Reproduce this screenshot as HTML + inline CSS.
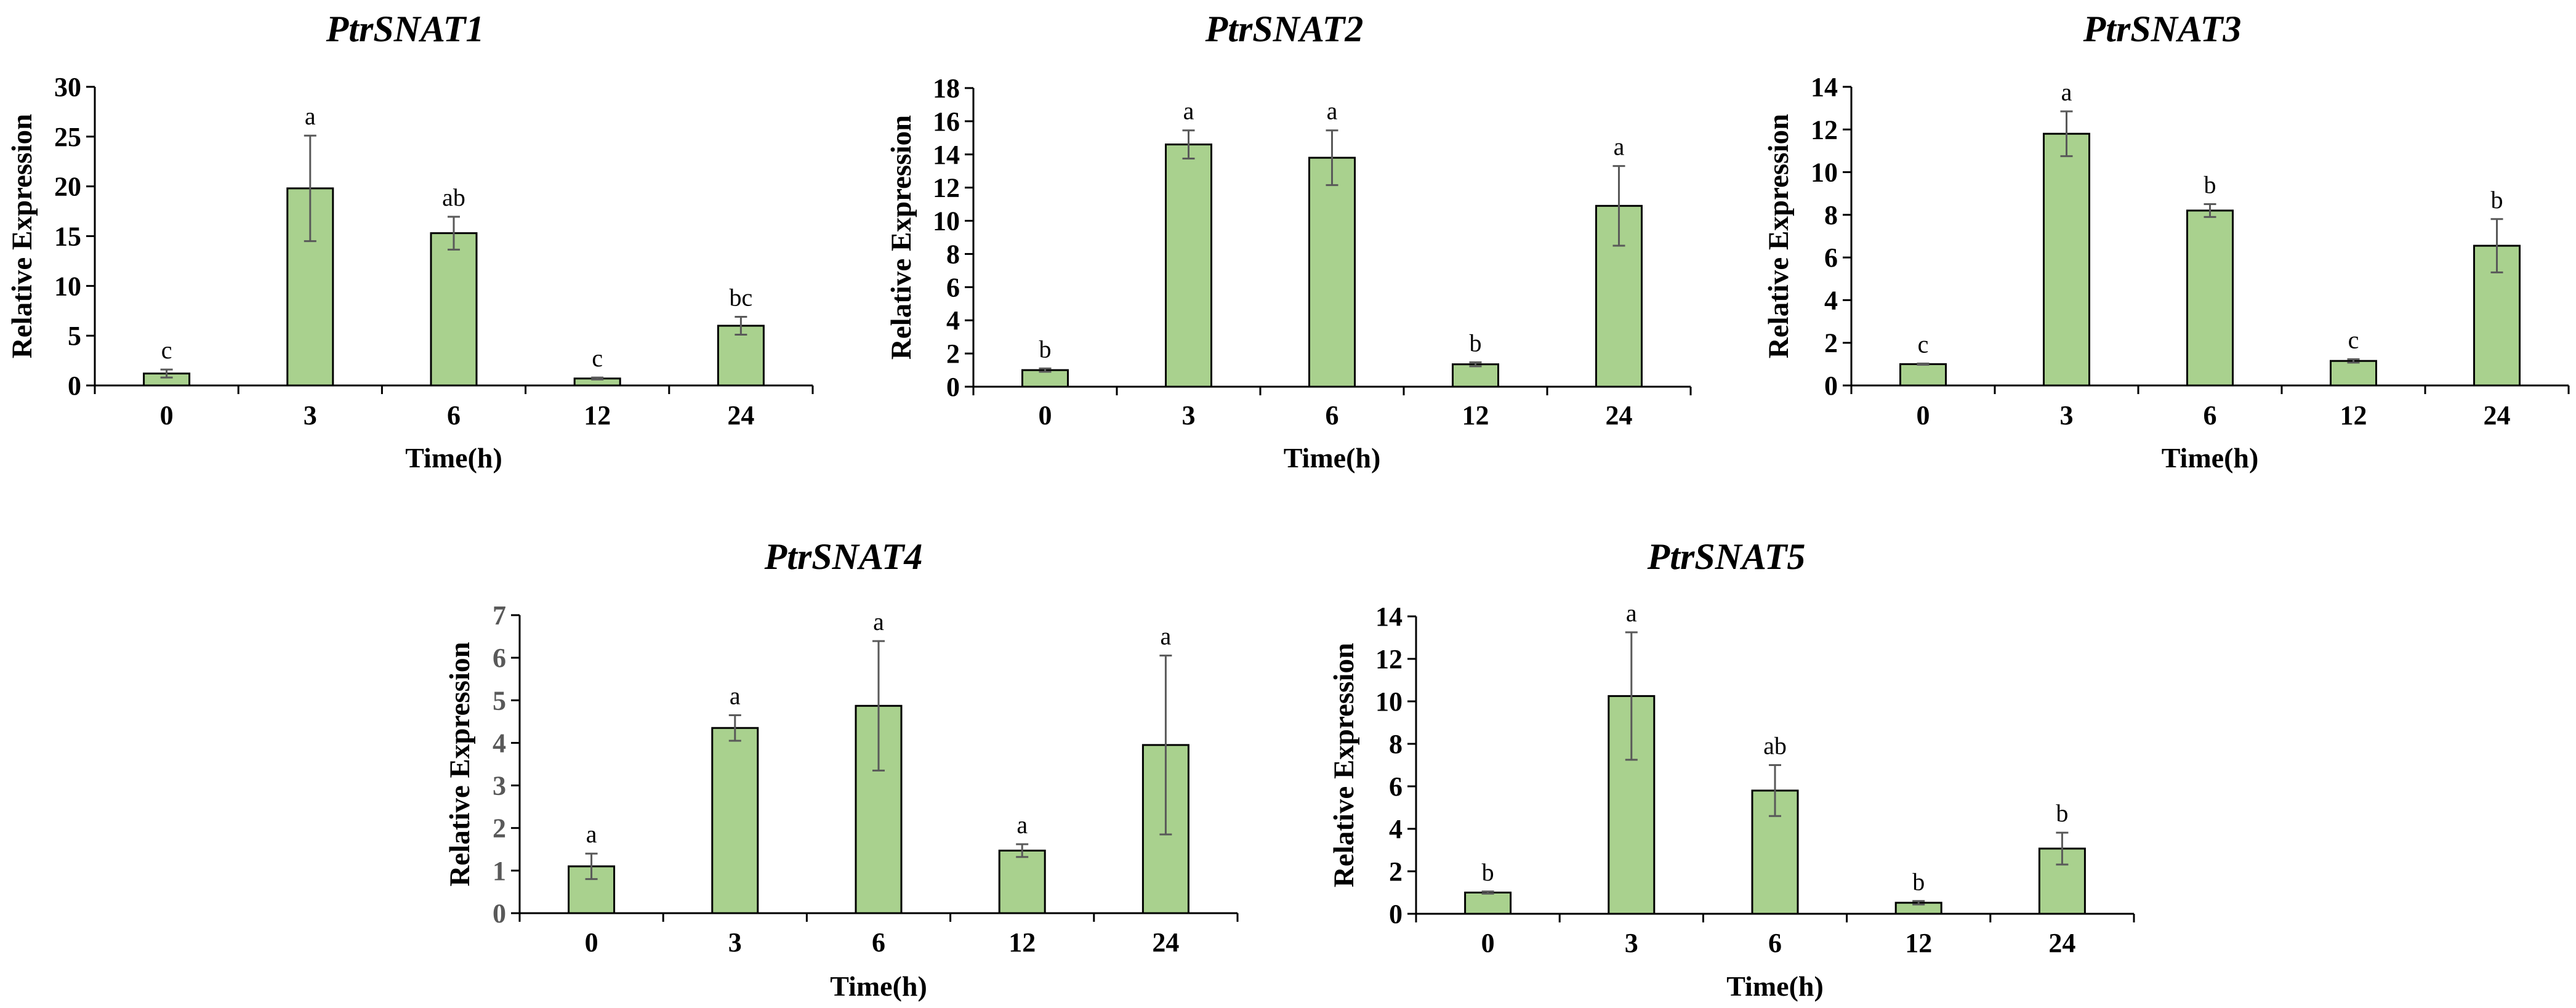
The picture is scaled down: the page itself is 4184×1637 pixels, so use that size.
<!DOCTYPE html>
<html><head><meta charset="utf-8">
<style>
html,body{margin:0;padding:0;background:#fff;}
svg{display:block;}
text{font-family:"Liberation Serif",serif;}
</style></head>
<body>
<svg id="fig" width="4184" height="1637" viewBox="0 0 4184 1637" xmlns="http://www.w3.org/2000/svg"></svg>
<script>
const categories = ["0","3","6","12","24"];
const titles = ["PtrSNAT1","PtrSNAT2","PtrSNAT3","PtrSNAT4","PtrSNAT5"];
const yMaxes = [30,18,14,7,14];
const ySteps = [5,2,2,1,2];
const values1 = [1.2,19.8,15.3,0.7,6.0];
const errors1 = [0.4,5.3,1.65,0.1,0.9];
const letters1 = ["c","a","ab","c","bc"];
const values2 = [1.0,14.6,13.8,1.35,10.9];
const errors2 = [0.1,0.85,1.65,0.12,2.4];
const letters2 = ["b","a","a","b","a"];
const values3 = [1.0,11.8,8.2,1.15,6.55];
const errors3 = [0.03,1.05,0.3,0.08,1.25];
const letters3 = ["c","a","b","c","b"];
const values4 = [1.1,4.35,4.87,1.47,3.95];
const errors4 = [0.3,0.3,1.52,0.15,2.1];
const letters4 = ["a","a","a","a","a"];
const values5 = [1.0,10.25,5.8,0.52,3.07];
const errors5 = [0.05,3.0,1.2,0.08,0.75];
const letters5 = ["b","a","ab","b","b"];

const allValues=[values1,values2,values3,values4,values5];
const allErrors=[errors1,errors2,errors3,errors4,errors5];
const allLetters=[letters1,letters2,letters3,letters4,letters5];
const layouts=[
 {x0:154,x1:1320,y0:626,yt:141,tx:658,ty:67,kY:689,lY:759,yl:36,tc:"#000"},
 {x0:1581,x1:2746,y0:628,yt:143,tx:2086,ty:67,kY:689,lY:759,yl:1464,tc:"#000"},
 {x0:3007,x1:4172,y0:626,yt:141,tx:3512,ty:67,kY:689,lY:759,yl:2889,tc:"#000"},
 {x0:844,x1:2010,y0:1483,yt:999,tx:1370,ty:924,kY:1545,lY:1617,yl:747,tc:"#595959"},
 {x0:2300,x1:3466,y0:1484,yt:1001,tx:2804,ty:924,kY:1546,lY:1617,yl:2183,tc:"#000"}
];
const NS="http://www.w3.org/2000/svg";
const svg=document.getElementById('fig');
function mk(tag,attrs,parent,txt){const e=document.createElementNS(NS,tag);for(const k in attrs)e.setAttribute(k,attrs[k]);if(txt!==undefined)e.textContent=txt;parent.appendChild(e);return e;}

for(let c=0;c<5;c++){
  const L=layouts[c], vals=allValues[c], errs=allErrors[c], lets=allLetters[c], ymax=yMaxes[c];
  const g=mk('g',{},svg);
  
  
  const yS=v=>L.y0-(v/ymax)*(L.y0-L.yt);
  const bw=(L.x1-L.x0)/categories.length;
  const xS=i=>L.x0+bw*(i+0.5);
  const t=mk('text',{x:L.tx,y:L.ty,'text-anchor':'middle','font-size':60,'font-weight':'bold','font-style':'italic'},g,titles[c]);
  
  
  for(let v=0;v<=ymax+1e-9;v+=ySteps[c]){
    const y=yS(v);
    const tk=mk('line',{x1:L.x0-14,x2:L.x0,y1:y,y2:y,stroke:'#000','stroke-width':3},g);
    
    
    const tl=mk('text',{x:L.x0-22,y:y+15,'text-anchor':'end','font-size':44,'font-weight':'bold',fill:L.tc},g,String(v));
    
    
  }
  for(let i=0;i<vals.length;i++){
    const cx=xS(i), w=74, yv=yS(vals[i]);
    const r=mk('rect',{x:cx-w/2,y:yv,width:w,height:L.y0-yv,fill:'#a9d18e',stroke:'#000','stroke-width':3},g);
    
    
    const yh=yS(vals[i]+errs[i]), yl=yS(vals[i]-errs[i]);
    const eb=mk('path',{d:`M${cx},${yh}V${yl}M${cx-10},${yh}H${cx+10}M${cx-10},${yl}H${cx+10}`,stroke:'#595959','stroke-width':3,fill:'none'},g);
    
    
    const lt=mk('text',{x:cx,y:yh-18,'text-anchor':'middle','font-size':40},g,lets[i]);
    
    
    const xl=mk('text',{x:cx,y:L.kY,'text-anchor':'middle','font-size':44,'font-weight':'bold'},g,categories[i]);
    
    
  }
  for(let i=0;i<=categories.length;i++){
    const x=L.x0+bw*i;
    const tk=mk('line',{x1:x,x2:x,y1:L.y0,y2:L.y0+14,stroke:'#000','stroke-width':3},g);
    
    
  }
  const ya=mk('line',{x1:L.x0,x2:L.x0,y1:L.yt,y2:L.y0,stroke:'#000','stroke-width':3},g);
  
  
  const xa=mk('line',{x1:L.x0,x2:L.x1,y1:L.y0,y2:L.y0,stroke:'#000','stroke-width':3},g);
  
  
  const xt=mk('text',{x:(L.x0+L.x1)/2,y:L.lY,'text-anchor':'middle','font-size':46,'font-weight':'bold'},g,'Time(h)');
  
  
  const cy=(L.y0+L.yt)/2;
  const yt=mk('text',{x:0,y:0,'text-anchor':'middle','font-size':47,'font-weight':'bold',transform:`translate(${L.yl+15},${cy}) rotate(-90)`},g,'Relative Expression');
  
  
}
</script>
</body></html>
